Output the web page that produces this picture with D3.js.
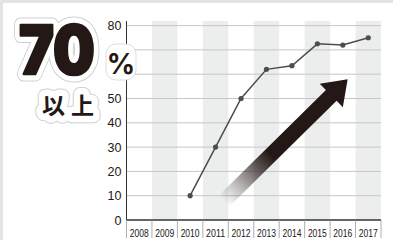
<!DOCTYPE html>
<html>
<head>
<meta charset="utf-8">
<script src="https://cdn.jsdelivr.net/npm/d3@7/dist/d3.min.js"></script>
<style>
  html, body { margin: 0; padding: 0; background: #fff; }
  svg { display: block; }
</style>
</head>
<body>
<div id="chart"></div>
<script>
// data
const years = [2008, 2009, 2010, 2011, 2012, 2013, 2014, 2015, 2016, 2017];
const shadedYears = [2009, 2011, 2013, 2015, 2017];
const rateYears = [2010, 2011, 2012, 2013, 2014, 2015, 2016, 2017];
const rates = [10, 30, 50, 62, 63.5, 72.5, 72, 75];
const yTicks = [0, 10, 20, 30, 40, 50, 60, 70, 80];
const hiddenLabels = [60, 70]; // covered by the "%" sticker
const arrowFrom = { year: 2011.33, value: 7.8 };
const arrowTo = { year: 2016.19, value: 57.9 };

const width = 393, height = 240;
const plot = { left: 126.5, right: 381, top: 21, bottom: 220 };

const svg = d3.select('#chart').append('svg')
  .attr('width', width)
  .attr('height', height);

// frame
svg.append('rect').attr('width', width).attr('height', height).attr('fill', '#e3e3e3');
svg.append('rect').attr('x', 3).attr('y', 3).attr('width', width - 3).attr('height', height - 3).attr('fill', '#fff');

const x = d3.scaleBand().domain(years).range([plot.left, plot.right]).padding(0);
const xPos = d3.scaleLinear().domain([years[0] - 0.5, years[years.length - 1] + 0.5]).range([plot.left, plot.right]);
const y = d3.scaleLinear().domain([0, 80]).range([plot.bottom, 25.6]);

// shaded columns
svg.append('g').selectAll('rect').data(shadedYears).enter().append('rect')
  .attr('x', d => x(d))
  .attr('y', plot.top)
  .attr('width', x.bandwidth())
  .attr('height', plot.bottom - plot.top)
  .attr('fill', '#eceded');

// gridlines
svg.append('g').selectAll('line').data(yTicks.filter(d => d > 0)).enter().append('line')
  .attr('x1', plot.left).attr('x2', plot.right)
  .attr('y1', d => y(d)).attr('y2', d => y(d))
  .attr('stroke', '#c6c6c6').attr('stroke-width', 1);

// y axis
const yAxis = d3.axisLeft(y).tickValues(yTicks).tickSize(0).tickPadding(5)
  .tickFormat(d => hiddenLabels.includes(d) ? '' : d);
const gy = svg.append('g').attr('transform', `translate(${plot.left},0)`).call(yAxis);
gy.select('.domain').attr('d', `M0,${plot.top}V${plot.bottom}`).attr('stroke', '#333').attr('stroke-width', 1);
gy.selectAll('text')
  .attr('font-family', '"Liberation Sans", Arial, sans-serif')
  .attr('font-size', 12.5)
  .attr('fill', '#231815');

// x axis
const xAxis = d3.axisBottom(x).tickSize(0).tickPadding(9);
const gx = svg.append('g').attr('transform', `translate(0,${plot.bottom})`).call(xAxis);
gx.select('.domain').attr('d', `M${plot.left},0H${plot.right}`).attr('stroke', '#333').attr('stroke-width', 1.6);
gx.selectAll('text')
  .attr('font-family', '"Liberation Sans", Arial, sans-serif')
  .attr('font-size', 11.5)
  .attr('textLength', 19)
  .attr('lengthAdjust', 'spacingAndGlyphs')
  .attr('fill', '#231815');
gx.selectAll('.sep').data(years.concat([years[years.length - 1] + 1])).enter().append('line')
  .attr('class', 'sep')
  .attr('x1', d => xPos(d - 0.5)).attr('x2', d => xPos(d - 0.5))
  .attr('y1', 0).attr('y2', 18)
  .attr('stroke', '#999').attr('stroke-width', 0.8);

// arrow
const ax0 = xPos(arrowFrom.year), ay0 = y(arrowFrom.value);
const ax1 = xPos(arrowTo.year), ay1 = y(arrowTo.value);
const len = Math.hypot(ax1 - ax0, ay1 - ay0);
const ang = Math.atan2(ay1 - ay0, ax1 - ax0) * 180 / Math.PI;
const shaftW = 7.6, headW = 16.5, headL = 23;

const defs = svg.append('defs');
const grad = defs.append('linearGradient')
  .attr('id', 'arrowGrad')
  .attr('gradientUnits', 'userSpaceOnUse')
  .attr('x1', 0).attr('y1', 0).attr('x2', len).attr('y2', 0);
grad.append('stop').attr('offset', 0).attr('stop-color', '#231815').attr('stop-opacity', 0);
grad.append('stop').attr('offset', 0.12).attr('stop-color', '#231815').attr('stop-opacity', 0.3);
grad.append('stop').attr('offset', 0.38).attr('stop-color', '#231815').attr('stop-opacity', 1);
grad.append('stop').attr('offset', 1).attr('stop-color', '#231815').attr('stop-opacity', 1);

const arrowPts = [
  [0, -shaftW], [len - headL, -shaftW], [len - headL, -headW], [len, 0],
  [len - headL, headW], [len - headL, shaftW], [0, shaftW]
];
svg.append('path')
  .attr('transform', `translate(${ax0},${ay0}) rotate(${ang})`)
  .attr('d', d3.line()(arrowPts) + 'Z')
  .attr('fill', 'url(#arrowGrad)');

// line
const pts = rateYears.map((yr, i) => [x(yr) + x.bandwidth() / 2, y(rates[i])]);
svg.append('path')
  .attr('d', d3.line()(pts))
  .attr('fill', 'none')
  .attr('stroke', '#4d4d4d')
  .attr('stroke-width', 1.5);
svg.append('g').selectAll('circle').data(pts).enter().append('circle')
  .attr('cx', d => d[0]).attr('cy', d => d[1])
  .attr('r', 2.6)
  .attr('fill', '#4d4d4d');

// sticker label
const labels = [
  { text: '70', x: 19, y: 74, size: 67, weight: 900, family: 'Inter, "DejaVu Sans", sans-serif', len: 76, thick: 2.4 },
  { text: '以上', x: 42, y: 114, size: 23, weight: 700, family: '"Noto Sans CJK JP", sans-serif', spacing: 6 }
];
const layers = [
  { stroke: '#cfcfcf', sw: 15, fill: '#cfcfcf' },
  { stroke: '#fff', sw: 13, fill: '#fff' },
  { stroke: '#231815', sw: 0, fill: '#231815' }
];
layers.forEach((layer, i) => {
  const t = svg.append('g').selectAll('text').data(labels).enter().append('text')
    .attr('x', d => d.x).attr('y', d => d.y)
    .attr('font-family', d => d.family)
    .attr('font-size', d => d.size)
    .attr('font-weight', d => d.weight)
    .attr('letter-spacing', d => d.spacing || 0)
    .attr('fill', layer.fill)
    .attr('stroke', layer.stroke)
    .attr('stroke-width', d => i === 2 ? (d.thick || 0) : layer.sw)
    .attr('stroke-linejoin', 'round')
    .text(d => d.text);
  t.filter(d => d.len).attr('textLength', d => d.len).attr('lengthAdjust', 'spacingAndGlyphs');
});

// percent sign sticker
svg.append('rect')
  .attr('x', 106).attr('y', 44).attr('width', 30).attr('height', 36).attr('rx', 10)
  .attr('fill', '#fff').attr('stroke', '#d4d4d4').attr('stroke-width', 0.8);
svg.append('text')
  .attr('x', 121).attr('y', 74)
  .attr('text-anchor', 'middle')
  .attr('font-family', 'Inter, "DejaVu Sans", sans-serif')
  .attr('font-size', 28)
  .attr('font-weight', 700)
  .attr('fill', '#231815')
  .text('%');
</script>
</body>
</html>
